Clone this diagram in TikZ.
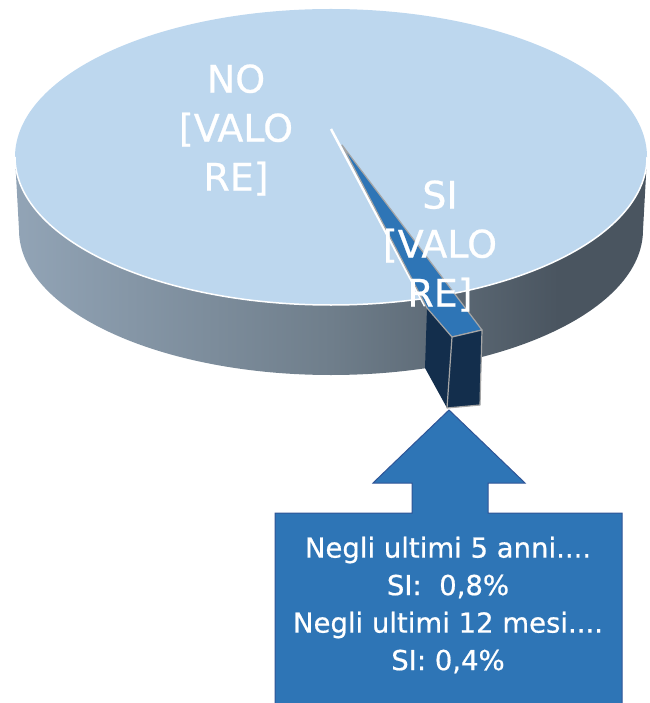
\documentclass[tikz,border=0pt]{standalone}
\usepackage{fontspec}
\setmainfont[FakeBold=0.6]{DejaVu Sans}
\definecolor{pietop}{HTML}{BDD7EE}
\definecolor{sideleft}{HTML}{A4B9CD}
\definecolor{sidequarter}{HTML}{92A4B6}
\definecolor{sidemid}{HTML}{6F7E8B}
\definecolor{sideright}{HTML}{4A5560}
\definecolor{sliceblue}{HTML}{2E75B6}
\definecolor{slicenavy}{HTML}{132E4C}
\definecolor{calloutedge}{HTML}{2F5597}
\definecolor{edgegray}{HTML}{A6A6A6}
\pgfdeclarehorizontalshading{pieside}{100bp}{color(0bp)=(sideleft); color(25bp)=(sidequarter); color(50bp)=(sidemid); color(68bp)=(sideright); color(100bp)=(sideright)}
\begin{document}
\begin{tikzpicture}[x=1pt,y=-1pt,
    biglabel/.style={text=white, font=\fontsize{38}{49}\selectfont, align=center, inner sep=0pt},
    boxtext/.style={text=white, font=\fontsize{27.5}{37.5}\selectfont, align=center, inner sep=0pt},
    sliceedge/.style={draw=edgegray, line width=1.2pt, line join=round}]
    \useasboundingbox (0,0) rectangle (649,703);
    \clip (0,0) rectangle (649,703);

    % side of the pie
    \shade[shading=pieside] (15,157) arc[start angle=180, end angle=0, x radius=316, y radius=148]
        -- (643,230) arc[start angle=0, end angle=180, x radius=312, y radius=145] -- cycle;

    % top of the pie
    \fill[pietop] (331,157) ellipse[x radius=316, y radius=148];
    \draw[white, line width=1.5pt] (15,157) arc[start angle=180, end angle=0, x radius=316, y radius=148];

    % the SI slice
    \coordinate (tip) at (342,145);
    \coordinate (cutin) at (427,308);
    \coordinate (frontl) at (452,337);
    \coordinate (frontr) at (482,330);
    \coordinate (bottoml) at (447,408);
    \coordinate (bottomr) at (480,405);
    \coordinate (sidel) at (425,368);
    \draw[white, line width=2.5pt] (331,129) -- (425,306);
    \fill[slicenavy] (cutin) -- (frontl) -- (bottoml) -- (sidel) -- cycle;
    \filldraw[sliceedge, fill=sliceblue] (tip) -- (cutin) -- (frontl) -- (frontr) -- cycle;
    \filldraw[sliceedge, fill=slicenavy] (frontl) -- (frontr) -- (bottomr) -- (bottoml) -- cycle;

    % labels
    \node[biglabel] (nolabel) at (236,130) {NO\\{[VALO}\\RE]};
    \node[biglabel] (silabel) at (440,246) {SI\\{[VALO}\\RE]};

    % callout
    \filldraw[fill=sliceblue, draw=calloutedge, line width=1pt]
        (275,513) -- (412,513) -- (412,483) -- (373,483) -- (449,410) -- (525,483)
        -- (488,483) -- (488,513) -- (622,513) -- (622,712) -- (275,712) -- cycle;
    \node[boxtext] (callouttext) at (448,605)
        {Negli ultimi 5 anni....\\SI:\ \ 0,8\%\\Negli ultimi 12 mesi....\\SI: 0,4\%};
\end{tikzpicture}
\end{document}
